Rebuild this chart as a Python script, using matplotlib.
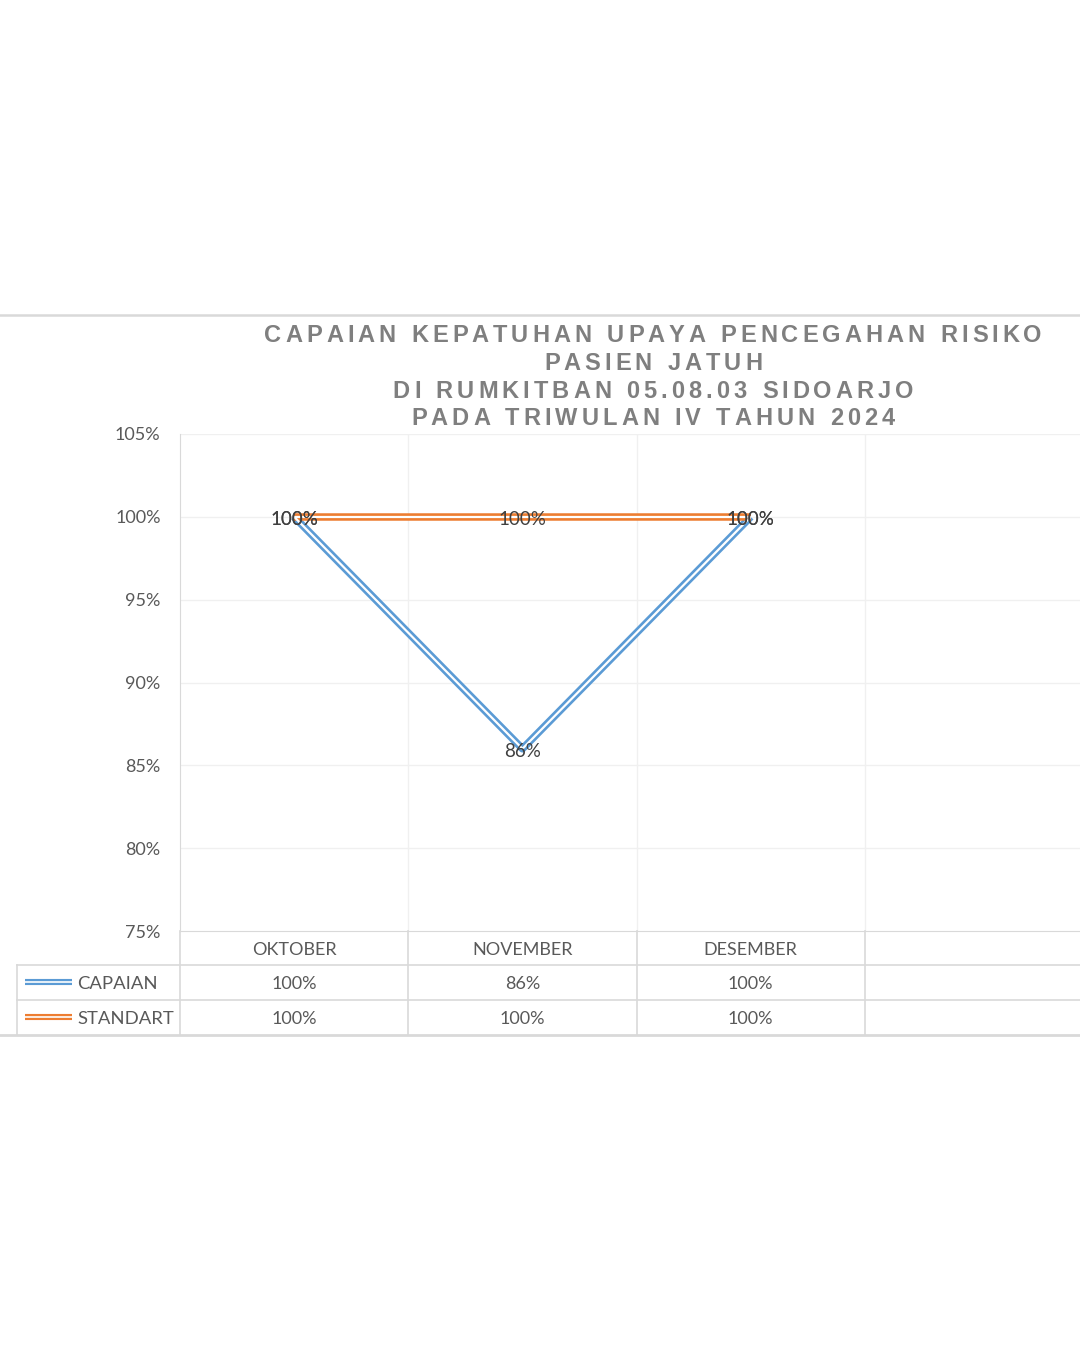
import matplotlib
matplotlib.use("Agg")
import matplotlib.pyplot as plt
from matplotlib.font_manager import FontProperties
from matplotlib.transforms import blended_transform_factory

# data
months = ["OKTOBER", "NOVEMBER", "DESEMBER"]
capaian = [1.00, 0.86, 1.00]
standart = [1.00, 1.00, 1.00]
series_names = ["CAPAIAN", "STANDART"]
title_lines = [
    "CAPAIAN KEPATUHAN UPAYA PENCEGAHAN RISIKO",
    "PASIEN JATUH",
    "DI RUMKITBAN 05.08.03 SIDOARJO",
    "PADA TRIWULAN IV TAHUN 2024",
]
yticks = [0.75, 0.80, 0.85, 0.90, 0.95, 1.00, 1.05]

BLUE = "#5B9BD5"
ORANGE = "#ED7D31"
GRID = "#F0F0F0"
BORDER = "#D9D9D9"
TXT = "#595959"
W, H = 1080, 1350

plt.rcParams["font.family"] = ["Lato", "DejaVu Sans"]

fig = plt.figure(figsize=(W / 100, H / 100), dpi=100)
fig.patch.set_facecolor("white")

col_w = 228.3
ax = fig.add_axes([180 / W, 419 / H, 900 / W, 497 / H])
ax.set_xlim(-0.5, -0.5 + 900 / col_w)
ax.set_ylim(0.75, 1.05)
ax.set_yticks(yticks)
ax.set_yticklabels([f"{v*100:.0f}%" for v in yticks], color=TXT, fontsize=13)
ax.tick_params(axis="y", length=0, pad=14)
ax.set_xticks([])
for s in ["top", "right"]:
    ax.spines[s].set_visible(False)
ax.spines["left"].set_color(BORDER)
ax.spines["bottom"].set_color(BORDER)
for v in yticks[1:]:
    ax.axhline(v, color=GRID, lw=1, zorder=0)

# column boundaries
bounds = [0.5, 1.5, 2.5]
row_y = [0, -0.0684, -0.1388, -0.2093]
tr = blended_transform_factory(ax.transData, ax.transAxes)
trf = blended_transform_factory(fig.transFigure, ax.transAxes)
for b in bounds:
    ax.axvline(b, color=GRID, lw=1, zorder=0)
    ax.plot([b, b], [0, row_y[-1]], color=BORDER, lw=1.2, transform=tr,
            clip_on=False)
ax.plot([-0.5, -0.5], [0, row_y[-1]], color=BORDER, lw=1.2, transform=tr,
        clip_on=False)

x = list(range(len(months)))


def double_line(xs, ys, color):
    ax.plot(xs, ys, color=color, lw=5.4, solid_capstyle="butt", zorder=3)
    ax.plot(xs, ys, color="white", lw=1.6, solid_capstyle="butt", zorder=4)


double_line(x, capaian, BLUE)
double_line(x, standart, ORANGE)

for series in [capaian, standart]:
    for xi, v in zip(x, series):
        ax.text(xi, v - 0.0018, f"{v*100:.0f}%", ha="center", va="center",
                fontsize=13.5, color="#404040", zorder=6)

# data table
for xi, m in zip(x, months):
    ax.text(xi, -0.0382, m, transform=tr, ha="center", va="center",
            fontsize=13, color=TXT)
for xi, v in zip(x, capaian):
    ax.text(xi, -0.1066, f"{v*100:.0f}%", transform=tr, ha="center",
            va="center", fontsize=13, color=TXT)
for xi, v in zip(x, standart):
    ax.text(xi, -0.177, f"{v*100:.0f}%", transform=tr, ha="center",
            va="center", fontsize=13, color=TXT)

for yy in row_y[1:3]:
    ax.plot([17 / W, 1], [yy, yy], color=BORDER, lw=1.2, transform=trf,
            clip_on=False)
ax.plot([0, 1], [row_y[3], row_y[3]], color=BORDER, lw=2, transform=trf,
        clip_on=False)
ax.plot([17 / W, 17 / W], [row_y[1], row_y[3]], color=BORDER, lw=1.2,
        transform=trf, clip_on=False)

for name, yy, c in zip(series_names, [-0.1026, -0.173], [BLUE, ORANGE]):
    ax.plot([25 / W, 72 / W], [yy, yy], color=c, lw=4.4, transform=trf,
            clip_on=False, solid_capstyle="butt")
    ax.plot([25 / W, 72 / W], [yy, yy], color="white", lw=1.2, transform=trf,
            clip_on=False, solid_capstyle="butt")
    ax.text(77 / W, yy - 0.004, name, transform=trf, ha="left", va="center",
            fontsize=13.3, color=TXT)

# chart border top
fig.add_artist(plt.Line2D([0, 1], [1 - 315 / H, 1 - 315 / H], color=BORDER,
                          lw=1.8, transform=fig.transFigure))

# letter-spaced title
fp = FontProperties(family="Liberation Sans", weight="bold", size=17)
rend = fig.canvas.get_renderer()
gap = 4.0
cx = 653
for line, base in zip(title_lines, [342, 370, 398, 425]):
    widths = []
    for c in line:
        if c == " ":
            widths.append(rend.get_text_width_height_descent("a", fp, ismath=False)[0] * 0.55)
        else:
            widths.append(rend.get_text_width_height_descent(c, fp, ismath=False)[0])
    total = sum(widths) + gap * (len(line) - 1)
    xp = cx - total / 2
    for c, w in zip(line, widths):
        if c != " ":
            fig.text(xp / W, 1 - base / H, c, fontproperties=fp, color="#7F7F7F",
                     ha="left", va="baseline")
        xp += w + gap

fig.savefig("out.png", dpi=100, facecolor="white")
